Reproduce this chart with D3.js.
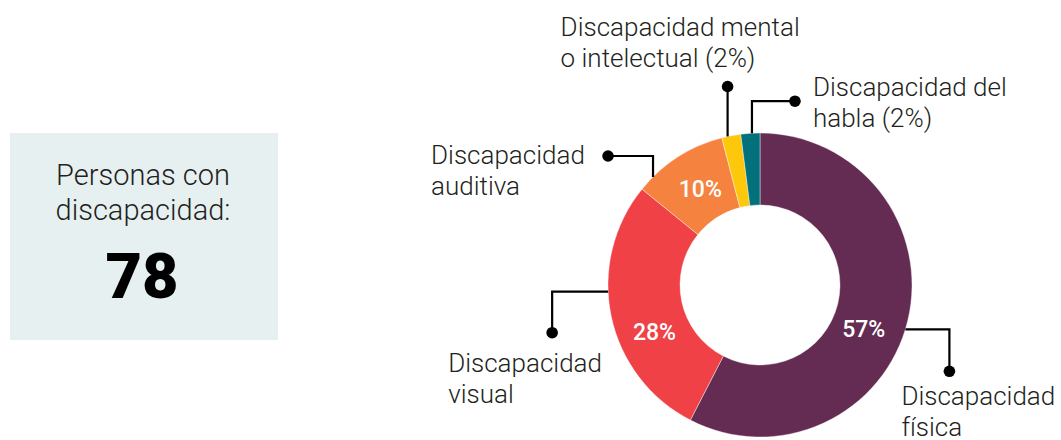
<!DOCTYPE html>
<html>
<head>
<meta charset="utf-8">
<script src="https://cdn.jsdelivr.net/npm/d3@7"></script>
<style>
  html, body { margin: 0; padding: 0; background: #fff; }
  svg { display: block; font-family: Roboto, "Noto Sans", sans-serif; }
</style>
</head>
<body>
<div id="chart"></div>
<script>
  // data
  var categories = ['Discapacidad física', 'Discapacidad visual', 'Discapacidad auditiva',
    'Discapacidad mental o intelectual', 'Discapacidad del habla'];
  var percents = [57, 28, 10, 2, 2];
  var labelLines = [
    ['Discapacidad', 'física'],
    ['Discapacidad', 'visual'],
    ['Discapacidad', 'auditiva'],
    ['Discapacidad mental', 'o intelectual (2%)'],
    ['Discapacidad del', 'habla (2%)']
  ];
  var totalLines = ['Personas con', 'discapacidad:'];
  var totalValue = 78;

  var colors = ['#652c53', '#ef4146', '#f6823f', '#fdc80c', '#03717b'];

  var width = 1061, height = 440;
  var cx = 760, cy = 285, outerR = 152, innerR = 80;

  var svg = d3.select('#chart').append('svg')
    .attr('width', width)
    .attr('height', height);

  // total box
  var box = svg.append('g');
  box.append('rect')
    .attr('x', 10).attr('y', 133)
    .attr('width', 268).attr('height', 207)
    .attr('fill', '#e7f0f1');
  box.selectAll('text.line')
    .data(totalLines)
    .enter().append('text')
    .attr('class', 'line')
    .attr('x', 143)
    .attr('y', function (d, i) { return 185 + i * 35; })
    .attr('text-anchor', 'middle')
    .attr('font-size', 29)
    .attr('font-weight', 300)
    .attr('fill', '#231f20')
    .text(function (d) { return d; });
  box.append('text')
    .attr('x', 142)
    .attr('y', 298)
    .attr('text-anchor', 'middle')
    .attr('font-size', 63)
    .attr('font-weight', 900)
    .attr('fill', '#000')
    .text(totalValue);

  // donut
  var pie = d3.pie().sort(null).value(function (d) { return d; });
  var arcs = pie(percents);
  var arc = d3.arc().innerRadius(innerR).outerRadius(outerR);

  var g = svg.append('g').attr('transform', 'translate(' + cx + ',' + cy + ')');

  g.selectAll('path.slice')
    .data(arcs)
    .enter().append('path')
    .attr('class', 'slice')
    .attr('d', arc)
    .attr('fill', function (d, i) { return colors[i]; })
    .attr('stroke', '#fff')
    .attr('stroke-width', 0.4);

  // percent labels inside the ring (only the bigger slices)
  var pctNudge = [[-9, 16], [8, 23], [3, 1]];
  g.selectAll('text.pct')
    .data(arcs.filter(function (d) { return d.data >= 5; }))
    .enter().append('text')
    .attr('class', 'pct')
    .attr('transform', function (d, i) {
      var c = arc.centroid(d);
      return 'translate(' + (c[0] + pctNudge[i][0]) + ',' + (c[1] + pctNudge[i][1]) + ')';
    })
    .attr('dy', '0.36em')
    .attr('text-anchor', 'middle')
    .attr('font-size', 23)
    .attr('font-weight', 500)
    .attr('fill', '#fff')
    .text(function (d) { return d.data + '%'; });

  // callouts
  var anchorShift = [3.3, 9.3, -12, -1.4, 0.6]; // degrees from slice mid
  var legs = [
    [[44, 0], [0, 42]],
    [[-56, 0], [0, 41]],
    [[0, -21], [-45, 0]],
    [[0, -50]],
    [[0, -32], [43, 0]]
  ];
  var textOffset = [[-48, 34], [-104, 39], [-177, 8], [-167, -51], [18, -5]];

  arcs.forEach(function (d, i) {
    var a = (d.startAngle + d.endAngle) / 2 + anchorShift[i] * Math.PI / 180;
    var pts = [[outerR * Math.sin(a), -outerR * Math.cos(a)]];
    legs[i].forEach(function (l) {
      var p = pts[pts.length - 1];
      pts.push([p[0] + l[0], p[1] + l[1]]);
    });
    var end = pts[pts.length - 1];

    g.append('path')
      .attr('d', d3.line()(pts))
      .attr('fill', 'none')
      .attr('stroke', '#000')
      .attr('stroke-width', 2.2);
    g.append('circle')
      .attr('cx', end[0]).attr('cy', end[1])
      .attr('r', 5.8)
      .attr('fill', '#000');

    g.append('text')
      .attr('font-size', 26)
      .attr('font-weight', 300)
      .attr('fill', '#231f20')
      .selectAll('tspan')
      .data(labelLines[i])
      .enter().append('tspan')
      .attr('x', end[0] + textOffset[i][0])
      .attr('y', function (t, j) { return end[1] + textOffset[i][1] + j * 31; })
      .text(function (t) { return t; });
  });
</script>
</body>
</html>
